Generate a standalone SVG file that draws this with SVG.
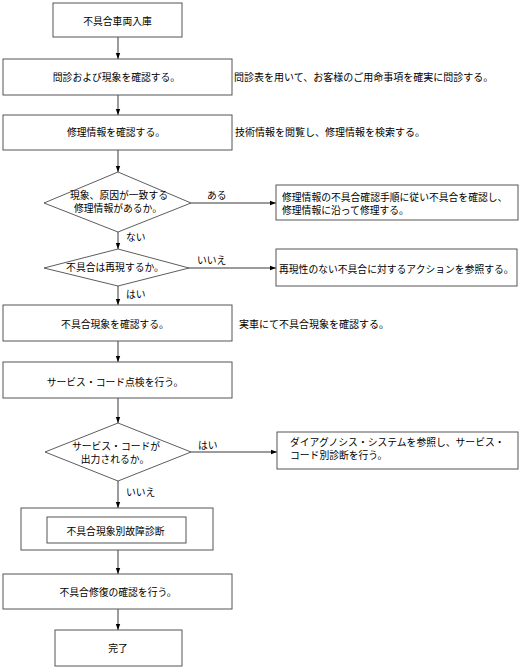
<svg xmlns="http://www.w3.org/2000/svg" width="523" height="669" viewBox="0 0 523 669">
<defs>
<style>
text{font-family:"Noto Sans CJK JP","Noto Sans CJK SC",sans-serif;font-size:9.8px;fill:#000}
.m{text-anchor:middle}
.n{font-size:10px}
.box{fill:#fff;stroke:#555;stroke-width:1}
.dia{fill:#fff;stroke:#333;stroke-width:0.8}
.con{fill:none;stroke:#222;stroke-width:0.9}
</style>
<marker id="ah" markerUnits="userSpaceOnUse" markerWidth="6" markerHeight="6" viewBox="0 0 6 6" refX="6" refY="3" orient="auto">
<path d="M0,0.8 L6,3 L0,5.2 Z" fill="#000"/>
</marker>
</defs>
<rect width="523" height="669" fill="#fff"/>
<g id="connectors">
<line class="con" x1="118" y1="37" x2="118" y2="59" marker-end="url(#ah)"/>
<line class="con" x1="118" y1="95" x2="118" y2="115" marker-end="url(#ah)"/>
<line class="con" x1="118" y1="150" x2="118" y2="172" marker-end="url(#ah)"/>
<line class="con" x1="191" y1="203" x2="276" y2="203" marker-end="url(#ah)"/>
<line class="con" x1="118" y1="232" x2="118" y2="249" marker-end="url(#ah)"/>
<line class="con" x1="189" y1="268" x2="276" y2="268" marker-end="url(#ah)"/>
<line class="con" x1="118" y1="286" x2="118" y2="305" marker-end="url(#ah)"/>
<line class="con" x1="118" y1="341" x2="118" y2="362" marker-end="url(#ah)"/>
<line class="con" x1="118" y1="398" x2="118" y2="423" marker-end="url(#ah)"/>
<line class="con" x1="191" y1="452" x2="277" y2="452" marker-end="url(#ah)"/>
<line class="con" x1="118" y1="481" x2="118" y2="508" marker-end="url(#ah)"/>
<line class="con" x1="118" y1="550" x2="118" y2="574" marker-end="url(#ah)"/>
<line class="con" x1="118" y1="609" x2="118" y2="630" marker-end="url(#ah)"/>
<text x="207" y="198.5">ある</text>
<text x="126" y="240.5">ない</text>
<text x="197" y="263.5">いいえ</text>
<text x="126" y="297.5">はい</text>
<text x="198" y="448.5">はい</text>
<text x="126" y="495.5">いいえ</text>
</g>
<g id="n1"><rect class="box" x="53" y="3" width="129" height="34"/><text class="m" x="117.5" y="25">不具合車両入庫</text></g>
<g id="n2"><rect class="box" x="3" y="59" width="229" height="36"/><text class="m" x="116.5" y="80.5">問診および現象を確認する。</text></g>
<g id="n2note"><text class="n" x="234" y="80.5">問診表を用いて、お客様のご用命事項を確実に問診する。</text></g>
<g id="n3"><rect class="box" x="3" y="115" width="229" height="35"/><text class="m" x="116" y="136">修理情報を確認する。</text></g>
<g id="n3note"><text class="n" x="235" y="136">技術情報を閲覧し、修理情報を検索する。</text></g>
<g id="d1"><polygon class="dia" points="118,172 191,203 118,232 44,203"/><text class="m" x="119" y="199">現象、原因が一致する</text><text class="m" x="118" y="212">修理情報があるか。</text></g>
<g id="nA"><rect class="box" x="276" y="185" width="242" height="35"/><text x="282" y="200.5">修理情報の不具合確認手順に従い不具合を確認し、</text><text x="282" y="213.5">修理情報に沿って修理する。</text></g>
<g id="d2"><polygon class="dia" points="118,249 189,268 118,286 44,268"/><text class="m" x="115" y="270.5">不具合は再現するか。</text></g>
<g id="nB"><rect class="box" x="276" y="249" width="241" height="37"/><text x="279" y="272.5">再現性のない不具合に対するアクションを参照する。</text></g>
<g id="n4"><rect class="box" x="3" y="305" width="229" height="36"/><text class="m" x="115" y="327.5">不具合現象を確認する。</text></g>
<g id="n4note"><text class="n" x="239" y="327.5">実車にて不具合現象を確認する。</text></g>
<g id="n5"><rect class="box" x="3" y="362" width="229" height="36"/><text class="m" x="115" y="385.5">サービス・コード点検を行う。</text></g>
<g id="d3"><polygon class="dia" points="118,423 191,452 118,481 45,452"/><text class="m" x="116" y="450">サービス・コードが</text><text class="m" x="115" y="463">出力されるか。</text></g>
<g id="nC"><rect class="box" x="277" y="432" width="241" height="37"/><text x="290" y="446">ダイアグノシス・システムを参照し、サービス・</text><text x="290" y="459">コード別診断を行う。</text></g>
<g id="n6"><rect class="box" x="21" y="508" width="192" height="42"/><rect class="box" x="47" y="517" width="139" height="26"/><text class="m" x="115.5" y="534.5">不具合現象別故障診断</text></g>
<g id="n7"><rect class="box" x="3" y="574" width="229" height="35"/><text class="m" x="118" y="595.5">不具合修復の確認を行う。</text></g>
<g id="n8"><rect class="box" x="55" y="630" width="127" height="36"/><text class="m" x="118" y="651.5">完了</text></g>
</svg>
